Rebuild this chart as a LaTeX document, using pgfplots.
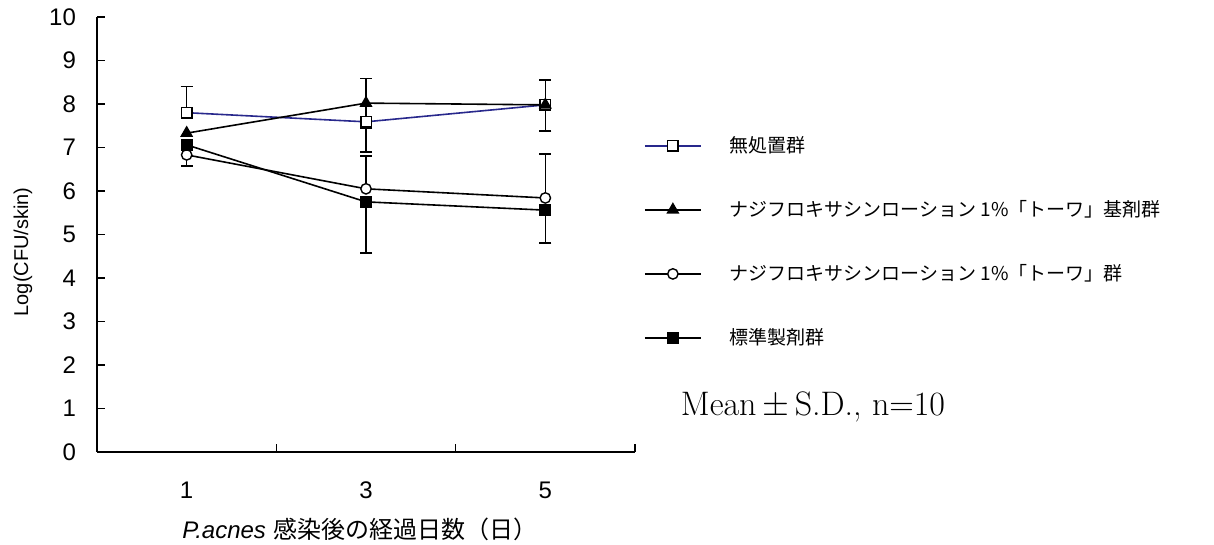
\documentclass[border=0pt]{standalone}
\usepackage{fontspec}
\usepackage{pgfplots}
\pgfplotsset{compat=1.18}
\newfontfamily\arial{Liberation Sans}
\newfontfamily\jp{Noto Sans CJK JP}
\definecolor{navy}{RGB}{40,40,140}
\begin{document}
\begin{tikzpicture}
\path[use as bounding box] (0pt,0pt) rectangle (607pt,272.5pt);
\begin{axis}[
  at={(48.5pt,46.5pt)}, anchor=south west,
  scale only axis, width=269pt, height=217.5pt,
  xmin=0, xmax=3, ymin=0, ymax=10,
  axis lines=left,
  axis line style={-, line width=0.8pt},
  every tick/.style={black, line width=0.8pt},
  tick align=inside,
  xtick={0.5,1.5,2.5}, xticklabels={1,3,5},
  major x tick style={draw=none},
  minor xtick={1,2,3},
  minor tick length=4pt,
  ytick={0,1,...,10},
  major tick length=4pt,
  every tick label/.append style={font=\arial\fontsize{12}{14}\selectfont},
  /pgf/number format/assume math mode=true,
  yticklabel style={xshift=-7pt},
  xticklabel style={yshift=-11.5pt},
  xlabel={{\arial\itshape P.acnes} {\jp 感染後の経過日数（日）}},
  xlabel style={at={(axis description cs:0.489,-0.178)}, anchor=center, font=\fontsize{12}{14}\selectfont},
  ylabel={Log(CFU/skin)},
  ylabel style={at={(axis description cs:-0.1375,0.46)}, anchor=center, font=\arial\fontsize{10}{12}\selectfont},
  clip=false,
  legend style={at={(axis description cs:1.005,0.745)}, anchor=north west, draw=none, fill=none,
    font=\jp\fontsize{9.5}{11}\selectfont, row sep=18.5pt,
    /tikz/every odd column/.append style={column sep=12pt}},
  legend cell align=left,
  legend image code/.code={\draw[mark repeat=2,mark phase=2] plot coordinates {(0pt,0pt) (14pt,0pt) (28pt,0pt)};},
]
% error bars (drawn first, markers on top)
\addplot[draw=none, mark=none, forget plot,
  error bars/.cd, y dir=plus, y explicit,
  error bar style={draw=black, line width=0.8pt},
  error mark options={draw=black, rotate=90, mark size=3pt, line width=0.8pt}]
  coordinates {(0.5,7.80) +- (0,0.60) (1.5,8.02) +- (0,0.57) (1.5,6.05) +- (0,0.75) (2.5,7.98) +- (0,0.57) (2.5,5.84) +- (0,1.01)};
\addplot[draw=none, mark=none, forget plot,
  error bars/.cd, y dir=minus, y explicit,
  error bar style={draw=black, line width=0.8pt},
  error mark options={draw=black, rotate=90, mark size=3pt, line width=0.8pt}]
  coordinates {(0.5,6.83) +- (0,0.25) (1.5,8.02) +- (0,0.57) (1.5,7.59) +- (0,0.69) (1.5,5.75) +- (0,1.17) (2.5,7.98) +- (0,0.60) (2.5,5.56) +- (0,0.75)};
% series
\addplot[navy, line width=0.8pt, mark=square*, mark size=2.6pt, mark options={fill=white, draw=black, line width=0.7pt}]
  coordinates {(0.5,7.80) (1.5,7.59) (2.5,7.98)};
\addlegendentry{無処置群}
\addplot[black, line width=0.8pt, mark=triangle*, mark size=3pt, mark options={fill=black, draw=black}]
  coordinates {(0.5,7.33) (1.5,8.02) (2.5,7.98)};
\addlegendentry{ナジフロキサシンローション 1\%「トーワ」基剤群}
\addplot[black, line width=0.8pt, mark=*, mark size=2.6pt, mark options={fill=white, draw=black, line width=0.7pt}]
  coordinates {(0.5,6.83) (1.5,6.05) (2.5,5.84)};
\addlegendentry{ナジフロキサシンローション 1\%「トーワ」群}
\addplot[black, line width=0.8pt, mark=square*, mark size=2.6pt, mark options={fill=black, draw=black}]
  coordinates {(0.5,7.06) (1.5,5.75) (2.5,5.56)};
\addlegendentry{標準製剤群}
\end{axis}
\node[font=\fontsize{17}{20}\selectfont] at (406.5pt,69pt) {Mean\,$\pm$\,S.D., n=10};
\end{tikzpicture}
\end{document}
